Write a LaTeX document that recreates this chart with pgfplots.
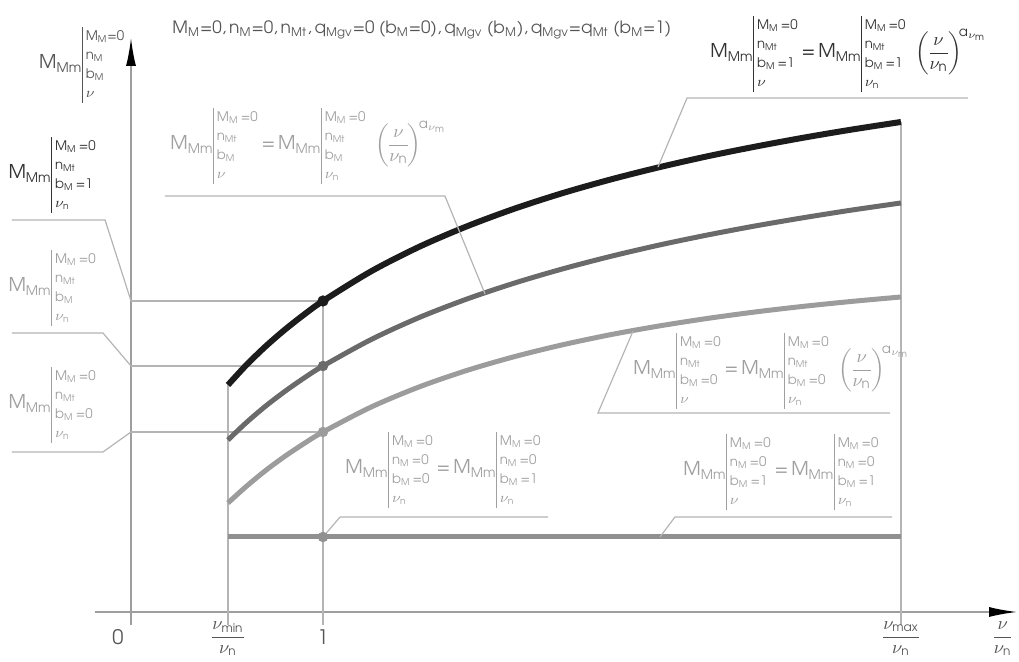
\documentclass[border=0pt]{standalone}
\usepackage{pgfplots}
\pgfplotsset{compat=1.18}
\usepackage{amsmath}
\usepackage{fontspec}
\setmainfont{TeX Gyre Adventor}
\usetikzlibrary{arrows.meta}

\definecolor{cBlack}{HTML}{1C1C1C}
\definecolor{cDark}{HTML}{6A6A6A}
\definecolor{cMid}{HTML}{9C9C9C}
\definecolor{cFlat}{HTML}{909090}
\definecolor{cGuide}{HTML}{B4B4B4}
\definecolor{tDark}{HTML}{333333}
\definecolor{tMed}{HTML}{555555}
\definecolor{tLight}{HTML}{A0A0A0}

% small helpers for the condition blocks
\newcommand{\s}[1]{\textsubscript{#1}}
\newcommand{\cnd}[1]{{\fontsize{6.6}{9.5}\selectfont\begin{tabular}[c]{|@{\hspace{1.5pt}}l@{}}#1\end{tabular}}}
\newcommand{\Mm}{M\s{Mm}}
\newcommand{\vn}{$\nu_{\text{n}}$}
\newcommand{\eq}{\hspace{2pt}=\hspace{1.5pt}}
\newcommand{\ratio}{$\biggl(\mkern-2mu\dfrac{\nu}{\nu_{\text{n}}}\mkern-2mu\biggr)^{\!\text{a}_{\nu_{\text{m}}}}$}
\tikzset{lbl/.style={inner sep=0pt, font=\fontsize{9.5}{11.5}\selectfont}}

\begin{document}
\begin{tikzpicture}
\begin{axis}[
  x=96pt, y=0.5pt,
  xmin=-0.19, xmax=4.615,
  ymin=-13, ymax=574,
  axis lines=middle,
  xtick=\empty, ytick=\empty,
  clip=false,
  axis line style={draw=black!38, line width=0.8pt},
  every inner x axis line/.append style={-{Latex[length=14pt,width=5pt,color=black]}},
  every inner y axis line/.append style={-{Latex[length=14pt,width=5pt,color=black]}},
]
% guide lines
\addplot[cGuide, line width=0.6pt] coordinates {(0.505,-13) (0.505,227)};
\addplot[cGuide, line width=0.6pt] coordinates {(1,-13) (1,311)};
\addplot[cGuide, line width=0.6pt] coordinates {(4.01,-13) (4.01,490)};
\addplot[cGuide, line width=0.6pt] coordinates {(0,311) (1,311)};
\addplot[cGuide, line width=0.6pt] coordinates {(0,246) (1,246)};
\addplot[cGuide, line width=0.6pt] coordinates {(0,180) (1,180)};

% curves
\addplot[cFlat, line width=2.5pt] coordinates {(0.505,75) (4.01,75)};
\addplot[cMid, line width=2.5pt, smooth] coordinates {
  (0.505,109.0) (0.6,125.5) (0.7,141.3) (0.8,155.5) (0.9,168.3) (1,180.0)
  (1.25,204.9) (1.5,225.0) (1.75,241.6) (2.0,255.5) (2.25,267.3) (2.5,277.4)
  (2.75,286.0) (3.0,293.5) (3.25,300.0) (3.5,305.6) (3.75,310.5) (4.01,315.0)};
\addplot[cDark, line width=2.5pt, smooth] coordinates {
  (0.505,172.0) (0.6,189.3) (0.7,205.7) (0.8,220.4) (0.9,233.8) (1,246.0)
  (1.25,272.4) (1.5,294.4) (1.75,313.0) (2.0,329.1) (2.25,343.2) (2.5,355.7)
  (2.75,366.9) (3.0,376.9) (3.25,386.0) (3.5,394.2) (3.75,401.8) (4.01,409.0)};
\addplot[cBlack, line width=3pt, smooth] coordinates {
  (0.505,227.0) (0.6,246.8) (0.7,265.4) (0.8,282.1) (0.9,297.2) (1,311.0)
  (1.25,340.6) (1.5,365.1) (1.75,385.7) (2.0,403.5) (2.25,419.0) (2.5,432.6)
  (2.75,444.7) (3.0,455.6) (3.25,465.3) (3.5,474.2) (3.75,482.3) (4.01,490.0)};

% points at nu/nu_n = 1
\addplot[only marks, mark=*, mark size=2.4pt, cFlat] coordinates {(1,75)};
\addplot[only marks, mark=*, mark size=2.4pt, cMid] coordinates {(1,180)};
\addplot[only marks, mark=*, mark size=2.4pt, cDark] coordinates {(1,246)};
\addplot[only marks, mark=*, mark size=2.6pt, cBlack] coordinates {(1,311)};

% leader lines
\draw[cGuide, line width=0.6pt] (-0.62,392) -- (-0.135,392) -- (0,311);
\draw[cGuide, line width=0.6pt] (-0.62,279) -- (-0.146,279) -- (0,246);
\draw[cGuide, line width=0.6pt] (-0.62,160) -- (-0.146,160) -- (0,180);
\draw[cGuide, line width=0.6pt] (0.177,416) -- (1.635,416) -- (1.844,318);
\draw[cGuide, line width=0.6pt] (4.359,514) -- (2.896,514) -- (2.745,445);
\draw[cGuide, line width=0.6pt] (3.953,199) -- (2.432,199) -- (2.615,281);
\draw[cGuide, line width=0.6pt] (2.172,95) -- (1.089,95) -- (1,75);
\draw[cGuide, line width=0.6pt] (3.964,95) -- (2.833,95) -- (2.755,75);

% header
\node[lbl, anchor=west, text=tMed, font=\fontsize{8.5}{10}\selectfont] at (0.214,582)
  {M\s{M}=0,\,n\s{M}=0,\,n\s{Mt},\,q\s{Mgv}=0 (b\s{M}=0),\,q\s{Mgv} (b\s{M}),\,q\s{Mgv}=q\s{Mt} (b\s{M}=1)};

% labels on the left
\node[lbl, anchor=west, text=tMed] at (-0.48,547) {\Mm\cnd{M\s{M}=0\\n\s{M}\\b\s{M}\\$\nu$}};
\node[lbl, anchor=west, text=tDark] at (-0.64,437) {\Mm\cnd{M\s{M}\,=0\\n\s{Mt}\\b\s{M}\,=1\\\vn}};
\node[lbl, anchor=west, text=tLight] at (-0.64,324) {\Mm\cnd{M\s{M}\,=0\\n\s{Mt}\\b\s{M}\\\vn}};
\node[lbl, anchor=west, text=tLight] at (-0.64,207) {\Mm\cnd{M\s{M}\,=0\\n\s{Mt}\\b\s{M}\,=0\\\vn}};

% formulas at the curves
\node[lbl, anchor=west, text=tDark] at (3.016,558)
  {\Mm\cnd{M\s{M}\,=0\\n\s{Mt}\\b\s{M}\,=1\\$\nu$}\eq\Mm\cnd{M\s{M}\,=0\\n\s{Mt}\\b\s{M}\,=1\\\vn}\hspace{5pt}\ratio};
\node[lbl, anchor=west, text=tLight] at (0.203,466)
  {\Mm\cnd{M\s{M}\,=0\\n\s{Mt}\\b\s{M}\\$\nu$}\eq\Mm\cnd{M\s{M}\,=0\\n\s{Mt}\\b\s{M}\\\vn}\hspace{5pt}\ratio};
\node[lbl, anchor=west, text=tLight] at (2.615,241)
  {\Mm\cnd{M\s{M}\,=0\\n\s{Mt}\\b\s{M}\,=0\\$\nu$}\eq\Mm\cnd{M\s{M}\,=0\\n\s{Mt}\\b\s{M}\,=0\\\vn}\hspace{5pt}\ratio};
\node[lbl, anchor=west, text=tLight] at (1.115,142)
  {\Mm\cnd{M\s{M}\,=0\\n\s{M}\,=0\\b\s{M}\,=0\\\vn}\eq\Mm\cnd{M\s{M}\,=0\\n\s{M}\,=0\\b\s{M}\,=1\\\vn}};
\node[lbl, anchor=west, text=tLight] at (2.875,140)
  {\Mm\cnd{M\s{M}\,=0\\n\s{M}\,=0\\b\s{M}\,=1\\$\nu$}\eq\Mm\cnd{M\s{M}\,=0\\n\s{M}\,=0\\b\s{M}\,=1\\\vn}};

% axis labels
\node[lbl, text=tMed, font=\fontsize{10}{12}\selectfont] at (-0.068,-25) {0};
\node[lbl, text=tMed, font=\fontsize{10}{12}\selectfont] at (1,-25) {1};
\node[lbl, text=tMed, font=\fontsize{9}{11}\selectfont] at (0.505,-27) {$\dfrac{\nu_{\text{min}}}{\nu_{\text{n}}}$};
\node[lbl, text=tMed, font=\fontsize{9}{11}\selectfont] at (4.01,-27) {$\dfrac{\nu_{\text{max}}}{\nu_{\text{n}}}$};
\node[lbl, text=tMed, font=\fontsize{9}{11}\selectfont] at (4.54,-27) {$\dfrac{\nu}{\nu_{\text{n}}}$};

\coordinate (bbsw) at (-0.6823,-50);
\coordinate (bbne) at (4.625,612);
\end{axis}
\pgfresetboundingbox
\useasboundingbox (bbsw) rectangle (bbne);
\end{tikzpicture}
\end{document}
